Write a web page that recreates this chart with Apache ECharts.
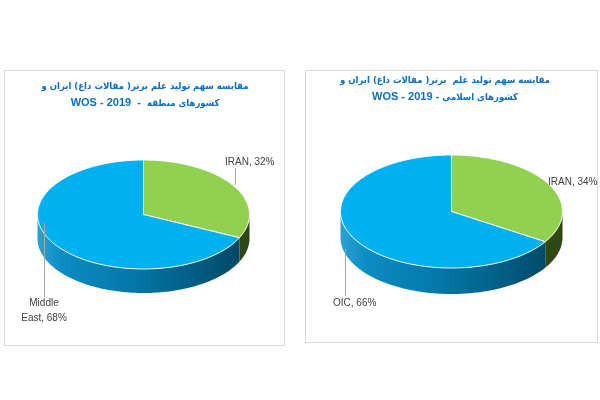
<!DOCTYPE html>
<html>
<head>
<meta charset="utf-8">
<script src="https://cdn.jsdelivr.net/npm/echarts@6/dist/echarts.min.js"></script>
<style>
  html, body { margin: 0; padding: 0; background: #ffffff; }
  #chart { width: 600px; height: 400px; }
</style>
</head>
<body>
<div id="chart"></div>
<script>
// Share of top-science output (hot papers), WOS 2019
const leftTitleFa = 'مقایسه سهم تولید علم برتر( مقالات داغ) ایران و';
const leftSubFa = 'کشورهای منطقه';
const leftCategories = ['IRAN', 'Middle East'];
const leftValues = [32, 68];
const leftLabels = ['IRAN, 32%', 'Middle\nEast, 68%'];

const rightTitleFa = 'مقایسه سهم تولید علم  برتر( مقالات داغ) ایران و';
const rightSubFa = 'کشورهای اسلامی';
const rightCategories = ['IRAN', 'OIC'];
const rightValues = [34, 66];
const rightLabels = ['IRAN, 34%', 'OIC, 66%'];

const sourceTag = 'WOS - 2019';
const topColors = ['#92D050', '#00B0F0'];

const TITLE_COLOR = '#0b6fc4';
const LABEL_FONT = '10px "Liberation Sans", "DejaVu Sans", sans-serif';

function sideFill(i, g) {
  const stops = i === 0
    ? [{ offset: 0, color: '#4a6d22' }, { offset: 1, color: '#2e4715' }]
    : [{ offset: 0, color: '#2aa2d6' }, { offset: 0.12, color: '#0a8cc2' },
       { offset: 0.45, color: '#0477a8' }, { offset: 0.77, color: '#025a80' },
       { offset: 1, color: '#01435f' }];
  return { type: 'linear', x: g.cx - g.rx, y: 0, x2: g.cx + g.rx, y2: 0, global: true, colorStops: stops };
}

// Tilted (elliptical) pie with a visible front wall, drawn per slice
function pie3d(values, labels, g) {
  const total = values.reduce((a, b) => a + b, 0);
  const pt = (t, dy) => [g.cx + g.rx * Math.sin(t), g.cy - g.ry * Math.cos(t) + dy];
  const arc = (s, e, dy) => {
    const out = [];
    const n = Math.max(2, Math.ceil((e - s) / (Math.PI / 180)));
    for (let k = 0; k <= n; k++) out.push(pt(s + (e - s) * k / n, dy));
    return out;
  };
  return function (params, api) {
    const i = params.dataIndex;
    let before = 0;
    for (let k = 0; k < i; k++) before += values[k];
    const a0 = before / total * Math.PI * 2;
    const a1 = (before + api.value(0)) / total * Math.PI * 2;
    const children = [];
    const s = Math.max(a0, Math.PI / 2), e = Math.min(a1, Math.PI * 1.5);
    if (s < e) {
      const wall = arc(s, e, 0).concat(arc(s, e, g.depth).reverse());
      children.push({ type: 'polygon', shape: { points: wall }, style: { fill: sideFill(i, g), stroke: null } });
    }
    const top = [[g.cx, g.cy]].concat(arc(a0, a1, 0));
    children.push({ type: 'polygon', shape: { points: top },
      style: { fill: topColors[i], stroke: 'rgba(255,255,255,0.95)', lineWidth: 1 } });
    const lb = g.labels[i];
    if (lb.leader) {
      children.push({ type: 'line', shape: { x1: lb.leader[0], y1: lb.leader[1], x2: lb.leader[2], y2: lb.leader[3] },
        style: { stroke: '#a6a6a6', lineWidth: 1 } });
    }
    children.push({ type: 'text', x: lb.x, y: lb.y,
      style: { text: labels[i], font: LABEL_FONT, fill: '#404040', align: lb.align, verticalAlign: 'middle', lineHeight: 15 } });
    return { type: 'group', children: children };
  };
}

// Two-line title: Persian line, then "WOS - 2019 - <region>" read left to right
function titleText(x, y, line1, region, sep) {
  return {
    type: 'text', x: x, y: y,
    style: {
      text: '{fa|' + line1 + '}\n{en|' + sourceTag + sep + '}{fa|' + region + '}',
      align: 'center', verticalAlign: 'middle', fill: TITLE_COLOR,
      rich: {
        fa: { font: 'bold 9.5px "DejaVu Sans Condensed", "DejaVu Sans", sans-serif', fill: TITLE_COLOR, lineHeight: 16.5 },
        en: { font: 'bold 11px "Liberation Sans", "DejaVu Sans", sans-serif', fill: TITLE_COLOR, lineHeight: 16.5 }
      }
    }
  };
}

const leftGeom = { cx: 143.5, cy: 214.5, rx: 106, ry: 54.5, depth: 24,
  labels: [ { x: 225, y: 162, align: 'left', leader: [235.5, 168, 235.5, 185] },
            { x: 44, y: 310.5, align: 'center', leader: [44.5, 223, 44.5, 297] } ] };
const rightGeom = { cx: 451.5, cy: 211.5, rx: 111, ry: 56.5, depth: 26,
  labels: [ { x: 548, y: 182, align: 'left' },
            { x: 333, y: 303, align: 'left', leader: [345.5, 249, 345.5, 296] } ] };

const chart = echarts.init(document.getElementById('chart'), null, { renderer: 'canvas' });
chart.setOption({
  backgroundColor: '#ffffff',
  animation: false,
  graphic: [
    { type: 'rect', shape: { x: 4.5, y: 70.5, width: 280, height: 275 }, style: { fill: '#ffffff', stroke: '#d9d9d9', lineWidth: 1 }, z: -10 },
    { type: 'rect', shape: { x: 305.5, y: 70.5, width: 292, height: 272 }, style: { fill: '#ffffff', stroke: '#d9d9d9', lineWidth: 1 }, z: -10 },
    titleText(145, 95, leftTitleFa, leftSubFa, '  -  '),
    titleText(445, 89, rightTitleFa, rightSubFa, ' - ')
  ],
  series: [
    { type: 'custom', coordinateSystem: 'none', renderItem: pie3d(leftValues, leftLabels, leftGeom),
      data: leftValues.map((v, i) => ({ name: leftCategories[i], value: v })) },
    { type: 'custom', coordinateSystem: 'none', renderItem: pie3d(rightValues, rightLabels, rightGeom),
      data: rightValues.map((v, i) => ({ name: rightCategories[i], value: v })) }
  ]
});
</script>
</body>
</html>
